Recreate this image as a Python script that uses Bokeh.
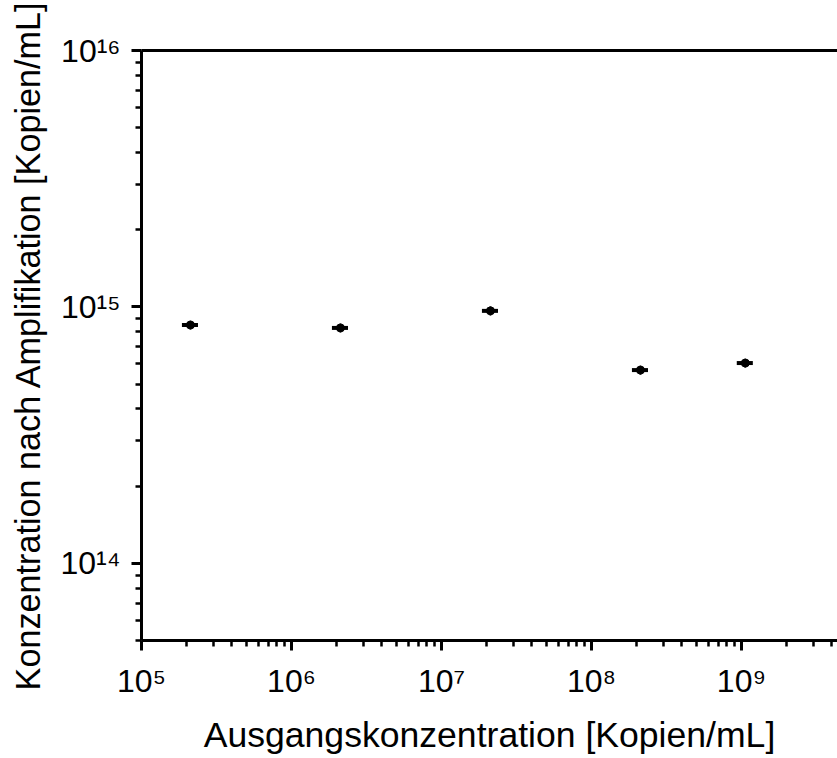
from bokeh.plotting import figure
from bokeh.models import FixedTicker, LinearAxis, Whisker, ColumnDataSource, Range1d, BasicTickFormatter
from bokeh.embed import file_html
from bokeh.resources import INLINE

# Data
x_values = [2.12e5, 2.12e6, 2.12e7, 2.12e8, 1.06e9]
y_values = [8.5e14, 8.28e14, 9.65e14, 5.67e14, 6.04e14]
x_err = [0.26e5, 0.26e6, 0.26e7, 0.26e8, 0.13e9]
y_err = [3.4e13, 3.3e13, 3.9e13, 2.3e13, 2.4e13]

x_ticks = [1e5, 1e6, 1e7, 1e8, 1e9]
x_tick_labels = ["10⁵", "10⁶", "10⁷", "10⁸", "10⁹"]
y_ticks = [1e14, 1e15, 1e16]
y_tick_labels = ["10¹⁴", "10¹⁵", "10¹⁶"]

x_label = "Ausgangskonzentration [Kopien/mL]"
y_label = "Konzentration nach Amplifikation [Kopien/mL]"

FONT = "Liberation Sans"

src = ColumnDataSource(dict(
    x=x_values, y=y_values,
    xl=[a - b for a, b in zip(x_values, x_err)], xu=[a + b for a, b in zip(x_values, x_err)],
    yl=[a - b for a, b in zip(y_values, y_err)], yu=[a + b for a, b in zip(y_values, y_err)],
))

p = figure(width=837, height=758, x_axis_type="log", y_axis_type="log",
           x_range=Range1d(1e5, 10 ** 9.64), y_range=Range1d(5e13, 1e16),
           min_border_left=141, min_border_right=0, min_border_top=50, min_border_bottom=118,
           output_backend="svg", toolbar_location=None)
p.outline_line_color = None
p.xgrid.visible = False
p.ygrid.visible = False
p.background_fill_color = "white"
p.border_fill_color = "white"

minor_x = [m * d for d in [1e5, 1e6, 1e7, 1e8, 1e9] for m in range(2, 10)]
minor_y = [m * d for d in [1e13, 1e14, 1e15] for m in range(2, 10)]

for ax, ticks, labels, minors in [(p.xaxis[0], x_ticks, x_tick_labels, minor_x),
                                  (p.yaxis[0], y_ticks, y_tick_labels, minor_y)]:
    ax.ticker = FixedTicker(ticks=ticks, minor_ticks=minors)
    ax.formatter = BasicTickFormatter()
    ax.major_label_overrides = {t: l for t, l in zip(ticks, labels)}
    ax.axis_line_width = 3
    ax.axis_line_color = "black"
    ax.major_tick_line_width = 3
    ax.minor_tick_line_width = 2.5
    ax.major_tick_out = 10
    ax.major_tick_in = 0
    ax.minor_tick_out = 6
    ax.minor_tick_in = 0
    ax.major_label_text_font = FONT
    ax.major_label_text_font_size = "32px"
    ax.major_label_text_color = "black"
    ax.axis_label_text_font = FONT
    ax.axis_label_text_font_style = "normal"
    ax.axis_label_text_color = "black"

p.xaxis.axis_label = x_label
p.yaxis.axis_label = y_label
p.xaxis.axis_label_text_font_size = "35.6px"
p.yaxis.axis_label_text_font_size = "34.2px"
p.xaxis.major_label_standoff = 12
p.xaxis.axis_label_standoff = 13
p.yaxis.major_label_standoff = 11
p.yaxis.axis_label_standoff = 11

top = LinearAxis(ticker=FixedTicker(ticks=[]), formatter=BasicTickFormatter(),
                 major_label_text_font_size="1px", major_label_text_color=None,
                 axis_line_width=3, axis_line_color="black",
                 major_tick_line_color=None, minor_tick_line_color=None)
p.add_layout(top, "above")

p.add_layout(Whisker(source=src, base="y", lower="xl", upper="xu", dimension="width",
                     line_width=4, line_color="black", upper_head=None, lower_head=None))
p.add_layout(Whisker(source=src, base="x", lower="yl", upper="yu", dimension="height",
                     line_width=2, line_color="black", upper_head=None, lower_head=None))
p.scatter("x", "y", source=src, marker="circle", size=8, fill_color="black", line_color="black")

open("out.html", "w").write(file_html(p, INLINE))
